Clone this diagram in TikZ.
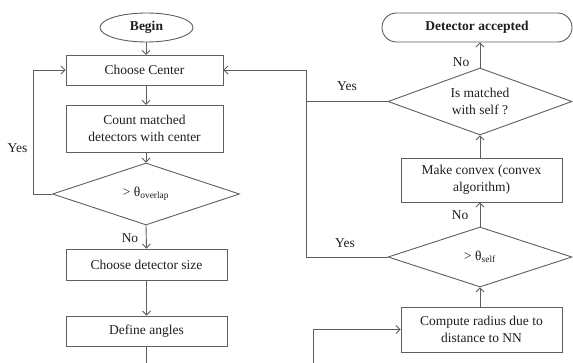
\documentclass[tikz,border=0pt]{standalone}
\usepackage{fontspec}
\setmainfont{Liberation Serif}
\usetikzlibrary{shapes.geometric,arrows.meta}
\definecolor{linegray}{HTML}{5E5E5E}
\definecolor{txt}{HTML}{1E1E1E}
\newcommand{\fs}{\fontsize{13.5}{17}\selectfont}
\begin{document}
\begin{tikzpicture}[x=1pt,y=-1pt,
  line/.style={draw=linegray, line width=0.9pt},
  arr/.style={line, -{Straight Barb[length=4pt,width=8pt]}},
  shp/.style={draw=linegray, line width=0.9pt, inner sep=0pt, align=center, font=\fs, text=txt},
  boxn/.style={shp, rectangle},
  dia/.style={shp, diamond},
  lbl/.style={font=\fs, text=txt, inner sep=0pt}
]
\useasboundingbox (0,0) rectangle (573,363);

% left column
\node[shp, ellipse, minimum width=93pt, minimum height=29pt, font=\fs\bfseries] (begin) at (146.5,27.5) {Begin};
\node[boxn, minimum width=157pt, minimum height=30pt] (center) at (144.5,70) {Choose Center};
\node[boxn, minimum width=157pt, minimum height=47pt] (count) at (144.5,128.5) {Count matched\\detectors with center};
\node[dia, aspect=3, minimum width=187pt, minimum height=62pt] (overlap) at (146,194) {> θ\textsubscript{overlap}};
\node[boxn, minimum width=161pt, minimum height=31pt] (size) at (146.5,264.5) {Choose detector size};
\node[boxn, minimum width=161pt, minimum height=30pt] (angles) at (146.5,331) {Define angles};
\coordinate (bot1) at (146.5,363);

% right column
\node[shp, rectangle, rounded corners=14.5pt, minimum width=190pt, minimum height=29pt, font=\fs\bfseries] (accepted) at (477,27.5) {Detector accepted};
\node[dia, aspect=2.75, minimum width=184pt, minimum height=67pt] (match) at (480,101.5) {Is matched\\with self ?};
\node[boxn, minimum width=161pt, minimum height=44pt] (convex) at (481.5,180) {Make convex (convex\\algorithm)};
\node[dia, aspect=3.07, minimum width=184pt, minimum height=60pt] (self) at (480,257) {> θ\textsubscript{self}};
\node[boxn, minimum width=161pt, minimum height=45pt] (radius) at (481.5,329.5) {Compute radius due to\\distance to NN};
\coordinate (bot2) at (313,363);

\coordinate (loopL) at (33,194);
\coordinate (loopR) at (306,101.5);

% connectors left
\draw[arr] (begin.south -| 146,0) -- (146,55);
\draw[arr] (146,85) -- (146,105);
\draw[arr] (146,152) -- (overlap.north);
\draw[arr] (overlap.south) -- (size.north);
\draw[arr] (size.south) -- (angles.north);
\draw[line] (angles.south) -- (bot1);
\draw[arr] (overlap.west) -- (loopL) |- (center.west);

% connectors right
\draw[arr] (radius.north -| self.south) -- (self.south);
\draw[arr] (self.north) -- (self.north |- convex.south);
\draw[arr] (self.north |- convex.north) -- (match.south);
\draw[arr] (match.north) -- (match.north |- accepted.south);
\draw[arr] (match.west) -- (loopR) |- (center.east);
\draw[line] (self.west) -| (loopR);
\draw[arr] (bot2) |- (radius.west);

% labels
\node[lbl] (yes1) at (17.5,148) {Yes};
\node[lbl] (no1) at (130,238) {No};
\node[lbl] (yes2) at (347,86) {Yes};
\node[lbl] (no2) at (461,62) {No};
\node[lbl] (no3) at (460,215) {No};
\node[lbl] (yes3) at (345,243) {Yes};
\end{tikzpicture}
\end{document}
